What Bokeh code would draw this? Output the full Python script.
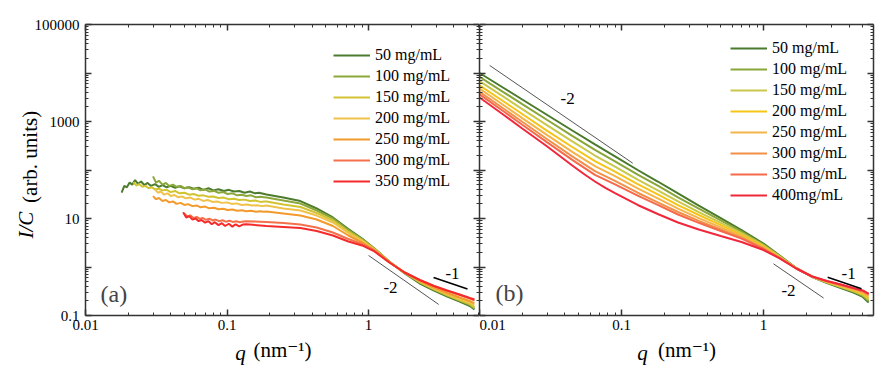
from bokeh.plotting import figure
from bokeh.layouts import row
from bokeh.models import (Range1d, LogAxis, FixedTicker, Label, Legend, LegendItem,
                          CustomJSTickFormatter)
from bokeh.embed import file_html
from bokeh.resources import INLINE

FONT = "'Liberation Serif', 'Times New Roman', 'DejaVu Serif', serif"
NB = "\u00a0"

# ---------------- panel (a) data ----------------
a_labels = ["50 mg/mL", "100 mg/mL", "150 mg/mL", "200 mg/mL", "250 mg/mL", "300 mg/mL", "350 mg/mL"]
a_colors = ["#4d7c2e", "#8ca83a", "#d2c430", "#f0c24a", "#f39a2c", "#f4704a", "#f52a2a"]

# noisy low-q parts
a_q50_n = [0.018, 0.0188, 0.0196, 0.0205, 0.0214, 0.0224, 0.0235, 0.0247, 0.026, 0.0275, 0.029, 0.031, 0.033,
           0.035, 0.0375, 0.04, 0.043, 0.046, 0.05, 0.054, 0.058, 0.063, 0.068, 0.074, 0.08, 0.087, 0.095, 0.103,
           0.112, 0.122, 0.133, 0.145, 0.158, 0.168]
a_I50_n = [34, 47, 44, 55, 50, 62, 52, 58, 49, 54, 47, 51, 45, 49, 44, 47, 43, 46, 42, 44, 41, 43, 39, 42, 38, 40,
           37, 39, 36, 37, 34, 36, 33, 34]
a_q100_n = [0.030, 0.0315, 0.033, 0.035, 0.037, 0.039, 0.0415, 0.044, 0.047, 0.05, 0.053, 0.057, 0.061, 0.065,
            0.07, 0.075, 0.081, 0.087, 0.094, 0.101, 0.109, 0.118, 0.127, 0.137, 0.148, 0.16, 0.172, 0.182]
a_I100_n = [74, 55, 60, 50, 54, 47, 50, 45, 47, 42, 44, 40, 42, 38, 40, 36, 37, 34, 35, 32, 33, 30, 31, 29, 30,
            27.5, 28, 27.5]
a_q150_n = [0.0218, 0.0228, 0.024, 0.0252, 0.0265, 0.028, 0.0295, 0.031, 0.033, 0.035, 0.0375, 0.04, 0.043, 0.046,
            0.05, 0.054, 0.058, 0.063, 0.068, 0.074, 0.08, 0.087, 0.095, 0.103, 0.112, 0.122, 0.133, 0.145, 0.158,
            0.172, 0.183]
a_I150_n = [56, 48, 51, 45, 47, 42, 44, 40, 41, 38, 39, 35, 37, 33, 34, 31, 32, 29.5, 30, 28, 28.5, 26.5, 27, 25,
            25.5, 24, 24.5, 23, 23.5, 22, 22.5]
a_q200_n = [0.031, 0.0325, 0.034, 0.036, 0.038, 0.040, 0.0425, 0.045, 0.048, 0.051, 0.055, 0.059, 0.063, 0.068,
            0.073, 0.079, 0.085, 0.092, 0.1, 0.108, 0.117, 0.127, 0.138, 0.15, 0.163, 0.177]
a_I200_n = [40, 34, 36, 31, 33, 29, 30.5, 27.5, 28.5, 26, 27, 24.5, 25.5, 23, 24, 22, 22.5, 21, 21.5, 20, 20.5,
            19, 19.5, 18.5, 18.8, 18]
a_q250_n = [0.030, 0.0315, 0.033, 0.035, 0.037, 0.039, 0.0415, 0.044, 0.047, 0.05, 0.053, 0.057, 0.061, 0.065,
            0.07, 0.075, 0.081, 0.087, 0.094, 0.101, 0.109, 0.118, 0.127, 0.137, 0.148, 0.16, 0.172, 0.182]
a_I250_n = [29, 25, 26.5, 23, 24, 21.5, 22.5, 20, 21, 19, 19.8, 18, 18.6, 17, 17.6, 16.2, 16.6, 15.5, 15.9, 15,
            15.3, 14.5, 14.8, 14.1, 14.4, 13.8, 14.1, 13.8]
a_q300_n = [0.05, 0.0525, 0.055, 0.058, 0.061, 0.064, 0.067, 0.071, 0.075, 0.079, 0.083, 0.088, 0.093, 0.098,
            0.104, 0.11, 0.116, 0.123, 0.13]
a_I300_n = [12.5, 11, 11.6, 10.2, 10.8, 9.8, 10.3, 9.4, 9.9, 9.1, 9.5, 8.8, 9.2, 8.6, 9.0, 8.5, 8.8, 8.4, 8.7]
a_q350_n = [0.049, 0.0515, 0.054, 0.057, 0.06, 0.063, 0.066, 0.07, 0.074, 0.078, 0.082, 0.087, 0.092, 0.097,
            0.103, 0.109, 0.115, 0.122, 0.129]
a_I350_n = [13.5, 10.5, 11.2, 9.5, 10.0, 8.8, 9.3, 8.2, 8.8, 7.6, 8.4, 7.3, 8.0, 7.0, 7.8, 6.8, 7.6, 6.9, 7.5]

# smooth high-q parts
a_q_s = [0.19, 0.25, 0.33, 0.43, 0.56, 0.72, 0.9, 1.1, 1.4, 1.8, 2.3, 2.9, 3.6, 4.4, 5.2, 5.6]
a_q_s2 = [0.137, 0.19, 0.25, 0.33, 0.43, 0.56, 0.72, 0.9, 1.1, 1.4, 1.8, 2.3, 2.9, 3.6, 4.4, 5.2, 5.6]
a_I50_s = [31.3, 27.1, 22.9, 16.1, 10.5, 6.07, 3.87, 2.41, 1.30, 0.734, 0.457, 0.328, 0.246, 0.194, 0.157, 0.133]
a_I100_s = [27.1, 23.5, 20.4, 14.6, 10.0, 5.79, 3.78, 2.41, 1.30, 0.752, 0.479, 0.344, 0.258, 0.204, 0.165, 0.139]
a_I150_s = [22.4, 19.4, 17.3, 13.0, 9.09, 5.40, 3.60, 2.35, 1.27, 0.752, 0.491, 0.352, 0.265, 0.209, 0.173, 0.146]
a_I200_s = [18.5, 16.1, 14.6, 11.5, 8.27, 5.02, 3.44, 2.30, 1.27, 0.770, 0.502, 0.360, 0.277, 0.219, 0.185, 0.161]
a_I250_s = [13.9, 12.7, 11.5, 9.54, 7.00, 4.46, 3.20, 2.24, 1.27, 0.770, 0.515, 0.378, 0.291, 0.235, 0.199, 0.177]
a_I300_s = [8.8, 8.47, 8.08, 7.52, 6.52, 5.14, 3.78, 2.98, 2.19, 1.27, 0.770, 0.539, 0.406, 0.320, 0.265, 0.224, 0.204]
a_I350_s = [7.6, 7.00, 6.68, 6.37, 5.53, 4.46, 3.36, 2.78, 2.09, 1.24, 0.770, 0.539, 0.406, 0.328, 0.271, 0.230, 0.214]

# guide lines (a)
a_g2_q = [1.0, 3.13]
a_g2_I = [1.73, 0.169]
a_g1_q = [2.88, 5.0]
a_g1_I = [0.608, 0.35]
a_txt = ["-2", "-1"]
a_txt_q = [1.43, 3.92]
a_txt_I = [0.378, 0.734]

# ---------------- panel (b) data ----------------
b_labels = ["50 mg/mL", "100 mg/mL", "150 mg/mL", "200 mg/mL", "250 mg/mL", "300 mg/mL", "350 mg/mL", "400mg/mL"]
b_colors = ["#4a7a2c", "#8aa63a", "#c9c84a", "#f5c518", "#f4b44a", "#f2904a", "#f46a4a", "#f0283c"]
b_q = [0.01, 0.015, 0.02, 0.03, 0.045, 0.065, 0.09, 0.13, 0.18, 0.25, 0.35, 0.5, 0.7, 1.0, 1.3, 1.7, 2.2, 2.8,
       3.5, 4.3, 5.0, 5.5]
b_q400 = [0.01, 0.015, 0.02, 0.03, 0.045, 0.055, 0.065, 0.077, 0.09, 0.13, 0.18, 0.25, 0.35, 0.5, 0.7, 1.0, 1.3,
          1.7, 2.2, 2.8, 3.5, 4.3, 5.0, 5.5]
b_I50 = [10000, 4790, 2843, 1362, 652, 336, 190, 100, 57.9, 32.8, 18.5, 10.2, 5.79, 3.05, 1.73, 0.954, 0.622,
         0.468, 0.369, 0.298, 0.241, 0.185]
b_I100 = [8318, 3908, 2285, 1074, 507, 261, 151, 80.4, 47.5, 27.4, 16.0, 9.18, 5.37, 2.91, 1.69, 0.954, 0.625,
          0.475, 0.380, 0.310, 0.254, 0.199]
b_I150 = [6808, 3140, 1803, 831, 389, 199, 118, 63.4, 38.1, 22.6, 13.6, 8.11, 4.98, 2.78, 1.65, 0.945, 0.628,
          0.484, 0.391, 0.320, 0.266, 0.214]
b_I200 = [5575, 2524, 1428, 643, 298, 152, 92.2, 51.0, 31.3, 18.9, 11.8, 7.28, 4.61, 2.65, 1.61, 0.940, 0.628,
          0.491, 0.400, 0.331, 0.280, 0.230]
b_I250 = [4746, 2109, 1175, 522, 236, 120, 74.8, 41.6, 26.0, 16.0, 10.2, 6.55, 4.32, 2.52, 1.57, 0.940, 0.631,
          0.498, 0.411, 0.344, 0.297, 0.246]
b_I300 = [4077, 1785, 986, 430, 191, 94.9, 59.6, 34.0, 21.6, 13.6, 8.92, 5.93, 4.02, 2.43, 1.54, 0.931, 0.634,
          0.507, 0.424, 0.355, 0.311, 0.265]
b_I350 = [3638, 1570, 859, 371, 162, 79.3, 50.7, 29.7, 19.1, 12.1, 8.15, 5.53, 3.85, 2.35, 1.52, 0.931, 0.637,
          0.510, 0.430, 0.362, 0.320, 0.275]
b_I400 = [3126, 1330, 718, 305, 124, 80.8, 57.9, 42.6, 33.4, 19.0, 12.4, 8.27, 5.93, 4.36, 3.28, 2.24, 1.50,
          0.931, 0.637, 0.515, 0.436, 0.369, 0.328, 0.284]

# guide lines (b)
b_g2a_q = [0.0118, 0.12]
b_g2a_I = [14300, 138]
b_g2b_q = [1.175, 2.65]
b_g2b_I = [1.164, 0.229]
b_g1_q = [2.83, 4.9]
b_g1_I = [0.617, 0.356]
b_txt = ["-2", "-2", "-1"]
b_txt_q = [0.0417, 1.50, 3.97]
b_txt_I = [2980, 0.328, 0.734]

# ticks
x_major = [0.01, 0.1, 1.0]
x_minor = [m * 10.0 ** e for e in (-2, -1, 0) for m in range(2, 10)]
y_major = [0.1, 1.0, 10.0, 100.0, 1000.0, 10000.0, 100000.0]
y_minor = [m * 10.0 ** e for e in range(-1, 5) for m in range(2, 10)]
x_tick_labels = {0.01: "0.01", 0.1: "0.1", 1.0: "1"}
y_tick_labels = {0.1: "0.1", 1.0: "", 10.0: "10", 100.0: "", 1000.0: "1000", 10000.0: "", 100000.0: "100000"}

AX = "#333333"


def no_labels(ax):
    ax.formatter = CustomJSTickFormatter(code="return ''")
    ax.major_label_standoff = 0
    ax.major_label_text_font_size = "1px"


def style_axis(ax, ticks, minor, overrides=None, standoff=5):
    ax.ticker = FixedTicker(ticks=ticks, minor_ticks=minor)
    ax.axis_line_color = AX
    ax.axis_line_width = 1.5
    ax.major_tick_line_color = AX
    ax.major_tick_line_width = 1.5
    ax.minor_tick_line_color = AX
    ax.minor_tick_line_width = 1
    ax.major_tick_in = 6
    ax.major_tick_out = 0
    ax.minor_tick_in = 3
    ax.minor_tick_out = 0
    ax.axis_label = None
    if overrides is not None:
        ax.major_label_overrides = overrides
        ax.major_label_text_font = FONT
        ax.major_label_text_font_size = "15px"
        ax.major_label_text_color = "black"
        ax.major_label_standoff = standoff
    else:
        no_labels(ax)


def set_label(ax, text, style, standoff):
    ax.axis_label = text
    ax.axis_label_text_font = FONT
    ax.axis_label_text_font_size = "21px"
    ax.axis_label_text_font_style = style
    ax.axis_label_text_color = "black"
    ax.axis_label_standoff = standoff


def label_only_axis(p, side, text, style, standoff):
    ax = LogAxis(ticker=FixedTicker(ticks=[], minor_ticks=[]))
    ax.axis_line_color = None
    ax.major_tick_line_color = None
    ax.minor_tick_line_color = None
    ax.major_tick_in = 0
    ax.major_tick_out = 0
    ax.minor_tick_in = 0
    ax.minor_tick_out = 0
    no_labels(ax)
    set_label(ax, text, style, standoff)
    p.add_layout(ax, side)


def make_fig(width, xmax, bl, br, ylabels):
    p = figure(width=width, height=370, x_axis_type="log", y_axis_type="log",
               x_range=Range1d(0.01, xmax), y_range=Range1d(0.1, 100000),
               output_backend="svg", toolbar_location=None,
               min_border_left=bl, min_border_right=br, min_border_top=24, min_border_bottom=55)
    p.xgrid.visible = False
    p.ygrid.visible = False
    p.outline_line_color = None
    p.background_fill_color = "white"
    p.border_fill_color = "white"
    xb = p.below[0]
    yl = p.left[0]
    style_axis(xb, x_major, x_minor, x_tick_labels, standoff=4)
    style_axis(yl, y_major, y_minor, y_tick_labels if ylabels else None, standoff=6)
    top = LogAxis()
    style_axis(top, x_major, x_minor, None)
    p.add_layout(top, "above")
    right = LogAxis()
    style_axis(right, y_major, y_minor, None)
    p.add_layout(right, "right")
    return p, xb, yl


def add_legend(p, renderers, labels, loc):
    items = [LegendItem(label=l, renderers=[r]) for l, r in zip(labels, renderers)]
    lg = Legend(items=items, location=loc, padding=0, margin=0, spacing=1,
                glyph_width=37, glyph_height=20, label_height=20, label_standoff=5,
                label_text_font=FONT, label_text_font_size="16px", label_text_color="black",
                background_fill_alpha=0, border_line_color=None)
    p.add_layout(lg, "center")


# ---------------- left figure ----------------
pa, pa_x, pa_y = make_fig(479, 6.08, 85, 0, True)
a_series_q = [a_q50_n + a_q_s, a_q100_n + a_q_s, a_q150_n + a_q_s, a_q200_n + a_q_s, a_q250_n + a_q_s,
              a_q300_n + a_q_s2, a_q350_n + a_q_s2]
a_series_I = [a_I50_n + a_I50_s, a_I100_n + a_I100_s, a_I150_n + a_I150_s, a_I200_n + a_I200_s,
              a_I250_n + a_I250_s, a_I300_n + a_I300_s, a_I350_n + a_I350_s]
ra = []
for q, I, c in zip(a_series_q, a_series_I, a_colors):
    ra.append(pa.line(q, I, line_color=c, line_width=2))
pa.line(a_g2_q, a_g2_I, line_color="#555555", line_width=1)
pa.line(a_g1_q, a_g1_I, line_color="black", line_width=1.6)
pa.text(x=a_txt_q, y=a_txt_I, text=a_txt, text_font={"value": FONT}, text_font_size="17px",
        text_align="center", text_baseline="middle", text_color="black")
add_legend(pa, ra, a_labels, (248, 124))
pa.add_layout(Label(x=15, y=22, x_units="screen", y_units="screen", text="(a)", text_font=FONT,
                    text_font_size="24px", text_baseline="middle", text_align="left"))
set_label(pa_x, "(nm\u207b\u00b9)", "normal", 5)
label_only_axis(pa, "below", "q" + NB * 16, "italic", -24)
set_label(pa_y, NB * 5 + "(arb. units)", "normal", -10)
label_only_axis(pa, "left", "I/C" + NB * 21, "italic", -23)

# ---------------- right figure ----------------
pb, pb_x, pb_y = make_fig(402, 5.95, 0, 8, False)
rb = []
b_series_q = [b_q, b_q, b_q, b_q, b_q, b_q, b_q, b_q400]
b_series_I = [b_I50, b_I100, b_I150, b_I200, b_I250, b_I300, b_I350, b_I400]
for q, I, c in zip(b_series_q, b_series_I, b_colors):
    rb.append(pb.line(q, I, line_color=c, line_width=2))
pb.line(b_g2a_q, b_g2a_I, line_color="#555555", line_width=1)
pb.line(b_g2b_q, b_g2b_I, line_color="#555555", line_width=1)
pb.line(b_g1_q, b_g1_I, line_color="black", line_width=1.6)
pb.text(x=b_txt_q, y=b_txt_I, text=b_txt, text_font={"value": FONT}, text_font_size="17px",
        text_align="center", text_baseline="middle", text_color="black")
add_legend(pb, rb, b_labels, (251, 110))
pb.add_layout(Label(x=16, y=23, x_units="screen", y_units="screen", text="(b)", text_font=FONT,
                    text_font_size="24px", text_baseline="middle", text_align="left"))
set_label(pb_x, NB * 4 + "(nm\u207b\u00b9)", "normal", 5)
label_only_axis(pb, "below", "q" + NB * 13, "italic", -24)

layout = row(pa, pb, spacing=0)
open("out.html", "w").write(file_html(layout, INLINE))
